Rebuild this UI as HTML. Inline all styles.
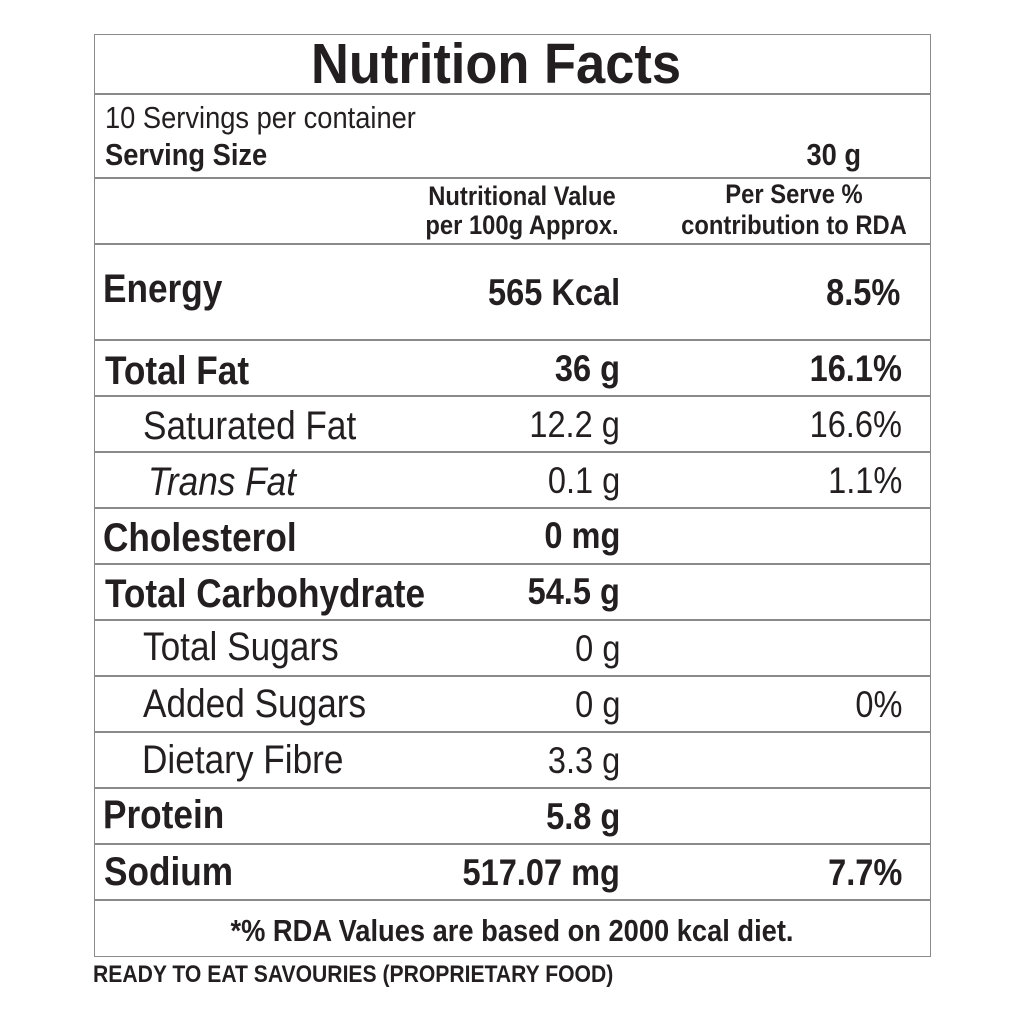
<!DOCTYPE html>
<html><head><meta charset="utf-8"><style>
body{margin:0;width:1024px;height:1024px;background:#fff;position:relative;overflow:hidden;font-family:"Liberation Sans",sans-serif;color:#231f20}
.t{position:absolute;white-space:nowrap;line-height:1}
.l{transform:scaleX(.88);transform-origin:left center}
.r{transform:scaleX(.88);transform-origin:right center}
.c{transform:translateX(-50%) scaleX(.88)}
.b{font-weight:bold}
.h{position:absolute;left:94px;width:837px;height:2px;background:#8a8a8a}
.box{position:absolute;left:94px;top:34px;width:835px;height:921px;border:1px solid #8a8a8a}
</style></head><body>
<div class="box"></div>
<div class="h" style="top:93px"></div>
<div class="h" style="top:177px"></div>
<div class="h" style="top:243px"></div>
<div class="h" style="top:339px"></div>
<div class="h" style="top:395px"></div>
<div class="h" style="top:451px"></div>
<div class="h" style="top:507px"></div>
<div class="h" style="top:563px"></div>
<div class="h" style="top:619px"></div>
<div class="h" style="top:675px"></div>
<div class="h" style="top:731px"></div>
<div class="h" style="top:787px"></div>
<div class="h" style="top:843px"></div>
<div class="h" style="top:899px"></div>

<div class="t b" style="left:496px;top:36px;font-size:57px;transform:translateX(-50%) scaleX(.92)">Nutrition Facts</div>
<div class="t l" style="left:105px;top:102px;font-size:31px">10 Servings per container</div>
<div class="t b l" style="left:105px;top:139px;font-size:31px">Serving Size</div>
<div class="t b r" style="right:163px;top:139px;font-size:31px">30 g</div>

<div class="t b c" style="left:522px;top:183px;font-size:27px">Nutritional Value</div>
<div class="t b c" style="left:522px;top:212px;font-size:27px">per 100g Approx.</div>
<div class="t b c" style="left:794px;top:181px;font-size:27px">Per Serve %</div>
<div class="t b c" style="left:794px;top:212px;font-size:27px">contribution to RDA</div>

<div class="t b l" style="left:103px;top:269px;font-size:40px">Energy</div>
<div class="t b r" style="right:404px;top:274px;font-size:37px">565 Kcal</div>
<div class="t b r" style="right:124px;top:274px;font-size:37px">8.5%</div>

<div class="t b l" style="left:105px;top:351px;font-size:40px">Total Fat</div>
<div class="t b r" style="right:404px;top:350px;font-size:37px">36 g</div>
<div class="t b r" style="right:122px;top:350px;font-size:37px">16.1%</div>

<div class="t l" style="left:143px;top:406px;font-size:40px">Saturated Fat</div>
<div class="t r" style="right:404px;top:406px;font-size:37px">12.2 g</div>
<div class="t r" style="right:122px;top:406px;font-size:37px">16.6%</div>

<div class="t l" style="left:148px;top:462px;font-size:40px;font-style:italic">Trans Fat</div>
<div class="t r" style="right:404px;top:462px;font-size:37px">0.1 g</div>
<div class="t r" style="right:122px;top:462px;font-size:37px">1.1%</div>

<div class="t b l" style="left:103px;top:518px;font-size:40px">Cholesterol</div>
<div class="t b r" style="right:404px;top:517px;font-size:37px">0 mg</div>

<div class="t b l" style="left:105px;top:574px;font-size:40px">Total Carbohydrate</div>
<div class="t b r" style="right:404px;top:573px;font-size:37px">54.5 g</div>

<div class="t l" style="left:143px;top:627px;font-size:40px">Total Sugars</div>
<div class="t r" style="right:404px;top:630px;font-size:37px">0 g</div>

<div class="t l" style="left:143px;top:684px;font-size:40px">Added Sugars</div>
<div class="t r" style="right:404px;top:686px;font-size:37px">0 g</div>
<div class="t r" style="right:122px;top:686px;font-size:37px">0%</div>

<div class="t l" style="left:142px;top:740px;font-size:40px">Dietary Fibre</div>
<div class="t r" style="right:404px;top:742px;font-size:37px">3.3 g</div>

<div class="t b l" style="left:103px;top:795px;font-size:40px">Protein</div>
<div class="t b r" style="right:404px;top:798px;font-size:37px">5.8 g</div>

<div class="t b l" style="left:104px;top:852px;font-size:40px">Sodium</div>
<div class="t b r" style="right:404px;top:854px;font-size:37px">517.07 mg</div>
<div class="t b r" style="right:122px;top:854px;font-size:37px">7.7%</div>

<div class="t b c" style="left:512px;top:915px;font-size:31px">*% RDA Values are based on 2000 kcal diet.</div>
<div class="t b l" style="left:93px;top:963px;font-size:24px">READY TO EAT SAVOURIES (PROPRIETARY FOOD)</div>
</body></html>
